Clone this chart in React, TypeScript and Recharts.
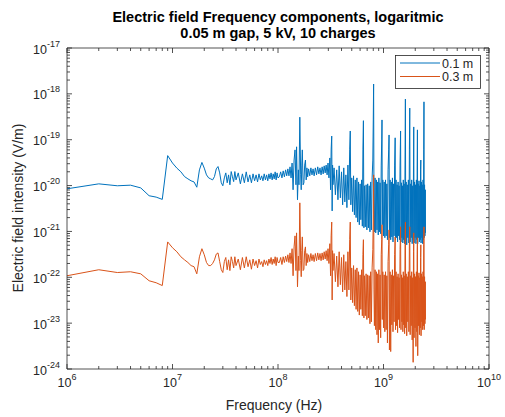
import React from "react";
import { LineChart, Line, XAxis, YAxis, Legend } from "recharts";

// frequency bins (MHz). 1 MHz FFT spacing at the low end, thinned above 40 MHz
const freqMHz = [
  1, 2, 3, 4, 5, 6, 7, 8, 9, 10, 11, 12, 13, 14, 15, 16, 17, 18, 19, 20,
  21, 22, 23, 24, 25, 26, 27, 28, 29, 30, 31, 32, 33, 34, 35, 36, 37, 38, 39, 40,
  42, 44, 46, 48, 50, 52, 54, 56, 58, 60, 62, 64, 66, 68, 70, 72, 74, 76, 78, 80,
  82, 84, 86, 88, 90, 92, 94, 96, 98, 100,
  103, 106, 109, 112, 115, 118, 121, 124, 127, 130,
  133, 136, 139, 142, 145, 148, 150, 153, 156, 158,
  161, 164, 166, 168, 170, 173, 176, 179, 182, 185,
  188, 191, 195, 200, 205, 210, 215, 220, 226, 232,
  238, 244, 250, 256, 262, 268, 274, 280, 286, 292,
  298, 304, 310, 315, 319, 323, 326, 329, 332,
  340, 350, 360, 370, 380, 390, 400, 410, 420, 430,
  440, 450, 460, 470, 478, 484, 490, 500, 510, 520,
  530, 540, 550, 560, 570, 580, 590, 600, 610, 620,
  630, 638, 645, 652, 660, 672, 684, 696, 708, 720,
  732, 744, 756, 768, 780, 792, 800, 806, 812, 820,
  832, 844, 856, 868, 880, 892, 904, 916, 928, 940,
  952, 962, 968, 974, 985, 1000,
  1015, 1030, 1045, 1060, 1075, 1090, 1105, 1120, 1129, 1138,
  1155, 1170, 1185, 1200, 1215, 1230, 1245, 1260, 1275, 1290,
  1300, 1315, 1330, 1345, 1360, 1375, 1390, 1405, 1420, 1435,
  1452, 1465, 1480, 1495, 1510, 1525, 1540, 1555, 1570, 1585,
  1600, 1613, 1625, 1640, 1660, 1680, 1700, 1720, 1740, 1760,
  1774, 1790, 1810, 1830, 1850, 1870, 1890, 1910, 1925, 1935,
  1950, 1970, 1990, 2010, 2030, 2050, 2070, 2085, 2097, 2110,
  2130, 2150, 2170, 2190, 2210, 2230, 2245, 2258, 2270, 2290,
  2310, 2330, 2350, 2370, 2390, 2405, 2419, 2432, 2450, 2470,
  2490, 2500,
];

// |E| at 0.1 m (V/m)
const field01 = [
  8.5e-21, 1.09e-20, 9.9e-21, 1.02e-20, 8.9e-21, 6.0e-21, 5.6e-21, 5.0e-21, 4.5e-20, 3.1e-20,
  2.4e-20, 2.0e-20, 1.57e-20, 1.4e-20, 1.27e-20, 1.2e-20, 9.2e-21, 2.2e-20, 3.2e-20, 2.4e-20,
  1.71e-20, 1.47e-20, 1.4e-20, 1.33e-20, 1.57e-20, 2.31e-20, 2.6e-20, 1.89e-20, 1.15e-20, 9.9e-21,
  1.47e-20, 1.89e-20, 1.15e-20, 1.71e-20, 1.04e-20, 2.02e-20, 1.55e-20, 1.22e-20, 2.02e-20, 1.33e-20,
  1.89e-20, 1.09e-20, 1.8e-20, 1.15e-20, 1.99e-20, 1.2e-20, 1.71e-20, 1.15e-20, 1.8e-20, 1.27e-20,
  1.71e-20, 1.2e-20, 1.8e-20, 1.33e-20, 1.63e-20, 1.27e-20, 1.8e-20, 1.33e-20, 1.71e-20, 1.27e-20,
  1.8e-20, 1.4e-20, 1.89e-20, 1.33e-20, 1.8e-20, 1.4e-20, 1.99e-20, 1.33e-20, 1.89e-20, 1.47e-20,
  1.55e-20, 1.99e-20, 1.47e-20, 2.09e-20, 1.55e-20, 2.2e-20, 1.63e-20, 2.31e-20, 1.63e-20, 2.56e-20,
  1.47e-20, 3.1e-20, 8.1e-21, 3.6e-20, 6.0e-20, 1.04e-20, 7.0e-20, 4.9e-21, 2.2e-20, 1.04e-20,
  3.1e-19, 1.71e-20, 8.1e-21, 2.8e-20, 6.0e-20, 1.04e-20, 1.15e-20, 2.8e-20, 3.6e-20, 1.33e-20,
  2.43e-20, 1.55e-20, 2.31e-20, 1.63e-20, 2.43e-20, 1.71e-20, 2.31e-20, 1.63e-20, 2.43e-20, 1.71e-20,
  2.56e-20, 1.8e-20, 2.43e-20, 1.71e-20, 2.56e-20, 1.8e-20, 2.69e-20, 1.89e-20, 2.8e-20, 1.71e-20,
  3.1e-20, 1.47e-20, 4.0e-20, 8.1e-21, 6.0e-20, 1.2e-19, 2.8e-21, 2.8e-20, 1.04e-20,
  2.43e-20, 6.3e-21, 2.2e-20, 4.9e-21, 2.69e-20, 5.4e-21, 1.99e-20, 3.8e-21, 2.43e-20, 4.4e-21,
  1.71e-20, 3.3e-21, 2.8e-20, 4.9e-21, 6.0e-20, 1.55e-19, 3.8e-21, 1.47e-20, 2.7e-21, 1.63e-20,
  2.3e-21, 1.33e-20, 2.0e-21, 1.47e-20, 1.6e-21, 1.2e-20, 1.4e-21, 1.09e-20, 1.8e-21, 1.33e-20,
  1.3e-21, 6.0e-20, 2.6e-19, 1.2e-21, 9.9e-21, 1.26e-21, 1.04e-20, 1.08e-21, 1.09e-20, 1.2e-21,
  9.9e-21, 9.8e-22, 1.2e-20, 1.08e-21, 1.47e-20, 3.6e-20, 2.7e-19, 1.64e-18, 4.9e-21, 9.8e-22,
  1.47e-20, 9.3e-22, 1.33e-20, 1.08e-21, 1.2e-20, 8.4e-22, 1.47e-20, 9.8e-22, 1.15e-20, 8.9e-22,
  2.8e-20, 9.9e-20, 2.7e-19, 1.4e-21, 1.33e-20, 8.0e-22,
  1.2e-20, 7.3e-22, 1.33e-20, 8.0e-22, 1.09e-20, 6.6e-22, 2.2e-20, 6.0e-20, 1.27e-19, 7.3e-22,
  1.33e-20, 6.6e-22, 1.2e-20, 7.6e-22, 1.47e-20, 5.9e-22, 1.09e-20, 8.0e-22, 2.8e-20, 1.1e-19,
  6.6e-22, 1.33e-20, 7.3e-22, 1.04e-20, 5.9e-22, 1.2e-20, 8.0e-22, 9.9e-21, 6.6e-22, 2.8e-20,
  1.55e-19, 5.9e-22, 1.15e-20, 7.3e-22, 9.9e-21, 5.6e-22, 1.33e-20, 6.6e-22, 1.09e-20, 5.4e-22,
  3.6e-20, 7.7e-19, 6.6e-22, 1.2e-20, 5.1e-22, 1.04e-20, 7.3e-22, 1.33e-20, 5.6e-22, 6.0e-20,
  4.9e-19, 5.9e-22, 1.09e-20, 7.3e-22, 1.33e-20, 5.4e-22, 9.9e-21, 6.6e-22, 2.8e-20, 1.9e-19,
  5.6e-22, 1.2e-20, 7.3e-22, 1.04e-20, 5.4e-22, 1.33e-20, 6.6e-22, 2.8e-20, 1.64e-19, 5.4e-22,
  1.09e-20, 7.3e-22, 1.27e-20, 5.9e-22, 9.9e-21, 6.6e-22, 2.2e-20, 3.6e-20, 5.6e-22, 1.2e-20,
  7.3e-22, 1.04e-20, 5.4e-22, 1.33e-20, 6.6e-22, 6.0e-20, 6.7e-19, 7.3e-22, 1.04e-20, 8.0e-22,
  8.1e-21, 9.3e-22,
];

// |E| at 0.3 m (V/m)
const field03 = [
  1.08e-22, 1.46e-22, 1.27e-22, 1.32e-22, 1.19e-22, 8.4e-23, 7.6e-23, 6.6e-23, 5.9e-22, 4.4e-22,
  3.6e-22, 2.8e-22, 2.4e-22, 2.1e-22, 1.8e-22, 1.7e-22, 1.19e-22, 2.8e-22, 4.2e-22, 3.1e-22,
  2.1e-22, 1.8e-22, 1.8e-22, 2.0e-22, 2.4e-22, 3.2e-22, 3.4e-22, 2.2e-22, 1.46e-22, 1.27e-22,
  2.2e-22, 2.7e-22, 1.46e-22, 2.4e-22, 1.4e-22, 2.8e-22, 2.2e-22, 1.6e-22, 2.8e-22, 1.8e-22,
  2.5e-22, 1.46e-22, 2.7e-22, 1.6e-22, 2.8e-22, 1.7e-22, 2.4e-22, 1.5e-22, 2.5e-22, 1.8e-22,
  2.3e-22, 1.6e-22, 2.5e-22, 1.9e-22, 2.2e-22, 1.7e-22, 2.4e-22, 1.9e-22, 2.3e-22, 1.8e-22,
  2.5e-22, 2.0e-22, 2.7e-22, 1.9e-22, 2.5e-22, 2.0e-22, 2.8e-22, 1.8e-22, 2.7e-22, 2.1e-22,
  2.1e-22, 2.7e-22, 1.9e-22, 2.8e-22, 2.1e-22, 2.9e-22, 2.2e-22, 3.1e-22, 2.1e-22, 3.4e-22,
  2.0e-22, 4.2e-22, 1.08e-22, 4.6e-22, 8.0e-22, 1.4e-22, 9.3e-22, 6.2e-23, 2.9e-22, 1.4e-22,
  4.2e-21, 2.3e-22, 1.03e-22, 3.8e-22, 7.6e-22, 1.4e-22, 1.5e-22, 3.8e-22, 4.6e-22, 1.8e-22,
  3.3e-22, 2.1e-22, 3.1e-22, 2.2e-22, 3.3e-22, 2.3e-22, 3.1e-22, 2.2e-22, 3.3e-22, 2.3e-22,
  3.4e-22, 2.4e-22, 3.3e-22, 2.3e-22, 3.4e-22, 2.4e-22, 3.6e-22, 2.5e-22, 3.8e-22, 2.3e-22,
  4.2e-22, 2.0e-22, 5.4e-22, 1.08e-22, 8.0e-22, 1.6e-21, 3.2e-23, 3.8e-22, 1.4e-22,
  3.3e-22, 8.0e-23, 2.9e-22, 6.2e-23, 3.6e-22, 6.9e-23, 2.7e-22, 4.8e-23, 3.1e-22, 5.3e-23,
  2.2e-22, 3.8e-23, 3.6e-22, 5.3e-23, 6.6e-22, 1.6e-21, 3.2e-23, 1.6e-22, 2.8e-23, 1.8e-22,
  2.4e-23, 1.46e-22, 2.0e-23, 1.6e-22, 1.8e-23, 1.32e-22, 1.5e-23, 1.13e-22, 2.0e-23, 1.46e-22,
  1.45e-23, 3.1e-22, 6.6e-22, 1.3e-23, 1.08e-22, 1.45e-23, 1.19e-22, 1.2e-23, 1.13e-22, 1.3e-23,
  1.08e-22, 9.7e-24, 1.32e-22, 1.07e-23, 1.6e-22, 4.0e-22, 2.3e-21, 1.71e-20, 5.3e-23, 8.8e-24,
  1.46e-22, 7.2e-24, 1.32e-22, 5.6e-24, 1.19e-22, 3.7e-24, 1.46e-22, 7.2e-24, 1.13e-22, 4.8e-24,
  3.1e-22, 6.6e-22, 1.4e-21, 1.2e-23, 1.32e-22, 7.9e-24,
  1.13e-22, 6.5e-24, 1.32e-22, 7.2e-24, 1.08e-22, 3.7e-24, 2.2e-22, 5.1e-22, 1.08e-21, 2.6e-24,
  1.32e-22, 2.4e-24, 1.13e-22, 9.2e-24, 1.46e-22, 6.5e-24, 1.08e-22, 1.07e-23, 3.1e-22, 7.6e-22,
  7.2e-24, 1.32e-22, 8.8e-24, 1.03e-22, 6.2e-24, 1.19e-22, 1.2e-23, 9.8e-23, 7.9e-24, 4.0e-22,
  1.26e-21, 7.2e-24, 1.13e-22, 1.07e-23, 9.8e-23, 6.5e-24, 1.32e-22, 9.2e-24, 1.08e-22, 5.9e-24,
  5.1e-22, 1.6e-21, 7.9e-24, 1.19e-22, 5.3e-24, 1.03e-22, 1.07e-23, 1.32e-22, 6.5e-24, 6.6e-22,
  1.26e-21, 5.6e-24, 1.08e-22, 8.8e-24, 1.32e-22, 4.3e-24, 9.8e-23, 1.4e-24, 3.6e-22, 9.3e-22,
  4.8e-24, 1.19e-22, 7.9e-24, 1.03e-22, 3.1e-24, 1.32e-22, 6.5e-24, 3.1e-22, 7.3e-22, 1.95e-24,
  1.08e-22, 8.8e-24, 1.25e-22, 5.6e-24, 9.8e-23, 7.9e-24, 2.7e-22, 5.1e-22, 5.3e-24, 1.19e-22,
  1.07e-23, 1.03e-22, 7.2e-24, 1.32e-22, 8.8e-24, 5.1e-22, 1.26e-21, 7.2e-24, 1.03e-22, 9.7e-24,
  8.0e-23, 1.2e-23,
];

const xDecades = [6, 10];
const yDecades = [-24, -17];

const FONT = '"Liberation Sans", Arial, Helvetica, sans-serif';
const INK = "#262626";

// major + minor ticks for a log axis
const logTicks = (lo: number, hi: number) => {
  const out: number[] = [];
  for (let e = lo; e < hi; e++) {
    for (let m = 1; m < 10; m++) out.push(m * Math.pow(10, e));
  }
  out.push(Math.pow(10, hi));
  return out;
};

const xTicks = logTicks(xDecades[0], xDecades[1]);
const yTicks = logTicks(yDecades[0], yDecades[1]);

const isMajor = (v: number) => {
  const e = Math.log10(v);
  return Math.abs(e - Math.round(e)) < 1e-6;
};
const expOf = (v: number) => String(Math.round(Math.log10(v)));

const rows = freqMHz.map((f, i) => ({
  freq: f * 1e6,
  near: field01[i],
  far: field03[i],
}));

const BottomTick = (props: any) => {
  const { x, y, payload } = props;
  const major = isMajor(payload.value);
  return (
    <g>
      <line x1={x} x2={x} y1={y} y2={y - (major ? 5 : 3)} stroke={INK} strokeWidth={0.8} />
      {major && (
        <text x={x} y={y + 18} textAnchor="middle" fontSize={12.5} fill={INK} fontFamily={FONT}>
          10
          <tspan dy={-7} fontSize={9}>
            {expOf(payload.value)}
          </tspan>
        </text>
      )}
    </g>
  );
};

const TopTick = (props: any) => {
  const { x, y, payload } = props;
  const major = isMajor(payload.value);
  return <line x1={x} x2={x} y1={y} y2={y + (major ? 5 : 3)} stroke={INK} strokeWidth={0.8} />;
};

const LeftTick = (props: any) => {
  const { x, y, payload } = props;
  const major = isMajor(payload.value);
  return (
    <g>
      <line x1={x} x2={x + (major ? 5 : 3)} y1={y} y2={y} stroke={INK} strokeWidth={0.8} />
      {major && (
        <text x={x - 7} y={y + 5.5} textAnchor="end" fontSize={12.5} fill={INK} fontFamily={FONT}>
          10
          <tspan dy={-7} fontSize={9}>
            {expOf(payload.value)}
          </tspan>
        </text>
      )}
    </g>
  );
};

const RightTick = (props: any) => {
  const { x, y, payload } = props;
  const major = isMajor(payload.value);
  return <line x1={x} x2={x - (major ? 5 : 3)} y1={y} y2={y} stroke={INK} strokeWidth={0.8} />;
};

const LegendBox = ({ payload }: any) => (
  <svg width={86} height={34} style={{ display: "block" }}>
    <rect x={0.5} y={0.5} width={85} height={33} fill="#fff" stroke={INK} strokeWidth={0.8} />
    {(payload || []).map((p: any, i: number) => (
      <g key={p.value}>
        <line x1={5} x2={45} y1={8 + i * 13.5} y2={8 + i * 13.5} stroke={p.color} strokeWidth={1} />
        <text x={47} y={12.5 + i * 13.5} fontSize={12.5} fill={INK} fontFamily={FONT}>
          {p.value}
        </text>
      </g>
    ))}
  </svg>
);

const axisCommon = {
  type: "number" as const,
  scale: "log" as const,
  allowDataOverflow: true,
  tickLine: false,
  tickSize: 0,
  tickMargin: 0,
  interval: 0 as const,
  stroke: INK,
  axisLine: { stroke: INK, strokeWidth: 0.8 },
};

export default function App() {
  return (
    <div
      style={{
        position: "absolute",
        left: 0,
        top: 0,
        width: 505,
        height: 417,
        background: "#fff",
        fontFamily: FONT,
        color: INK,
      }}
    >
      <div
        style={{
          position: "absolute",
          left: 47,
          top: 9,
          width: 462,
          textAlign: "center",
          fontWeight: "bold",
          fontSize: 14.5,
          lineHeight: "16px",
          color: "#000",
        }}
      >
        Electric field Frequency components, logaritmic
        <br />
        0.05 m gap, 5 kV, 10 charges
      </div>

      <LineChart width={505} height={417} data={rows} margin={{ top: 0, right: 0, bottom: 0, left: 0 }}>
        <XAxis
          {...axisCommon}
          xAxisId="bottom"
          orientation="bottom"
          dataKey="freq"
          height={48}
          domain={[1e6, 1e10]}
          ticks={xTicks}
          tick={<BottomTick />}
        />
        <XAxis
          {...axisCommon}
          xAxisId="top"
          orientation="top"
          dataKey="freq"
          height={48}
          domain={[1e6, 1e10]}
          ticks={xTicks}
          tick={<TopTick />}
        />
        <YAxis
          {...axisCommon}
          yAxisId="left"
          orientation="left"
          width={67}
          domain={[1e-24, 1e-17]}
          ticks={yTicks}
          tick={<LeftTick />}
        />
        <YAxis
          {...axisCommon}
          yAxisId="right"
          orientation="right"
          width={16}
          domain={[1e-24, 1e-17]}
          ticks={yTicks}
          tick={<RightTick />}
        />
        <Line
          xAxisId="bottom"
          yAxisId="left"
          type="linear"
          dataKey="near"
          name="0.1 m"
          stroke="#0072BD"
          strokeWidth={1}
          dot={false}
          activeDot={false}
          isAnimationActive={false}
        />
        <Line
          xAxisId="bottom"
          yAxisId="left"
          type="linear"
          dataKey="far"
          name="0.3 m"
          stroke="#D95319"
          strokeWidth={1}
          dot={false}
          activeDot={false}
          isAnimationActive={false}
        />
        <Legend
          layout="vertical"
          align="center"
          verticalAlign="middle"
          content={<LegendBox />}
          wrapperStyle={{ position: "absolute", left: 395, top: 55, width: 86, height: 34 }}
        />
      </LineChart>

      <div
        style={{
          position: "absolute",
          left: 174,
          top: 397,
          width: 200,
          textAlign: "center",
          fontSize: 14,
          lineHeight: "16px",
        }}
      >
        Frequency (Hz)
      </div>
      <div
        style={{
          position: "absolute",
          left: 18 - 120,
          top: 208 - 8,
          width: 240,
          height: 16,
          textAlign: "center",
          fontSize: 14,
          lineHeight: "16px",
          transform: "rotate(-90deg)",
          transformOrigin: "center center",
        }}
      >
        Electric field intensity (V/m)
      </div>
    </div>
  );
}
